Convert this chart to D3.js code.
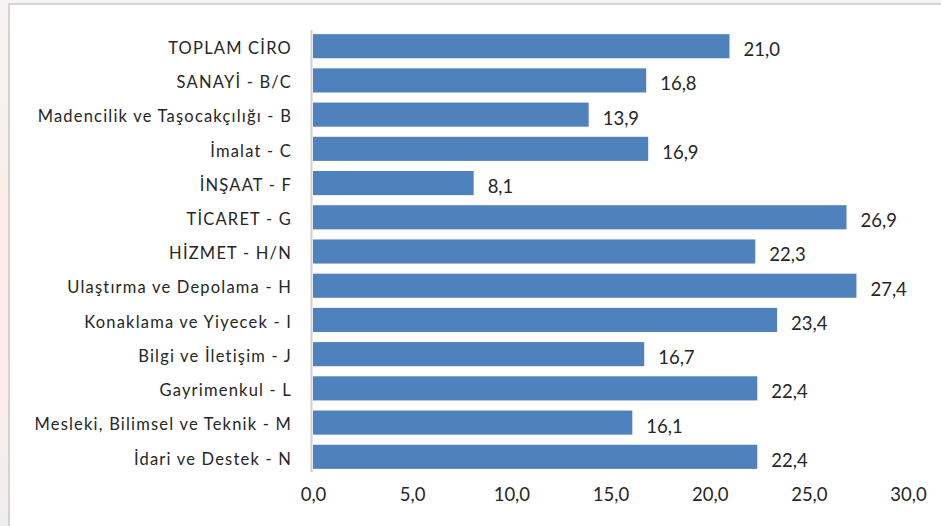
<!DOCTYPE html>
<html>
<head>
<meta charset="utf-8">
<script src="https://cdn.jsdelivr.net/npm/d3@7"></script>
<style>
  html, body { margin: 0; padding: 0; background: #fff; }
  svg { display: block; }
  text { font-family: Lato, "Open Sans", sans-serif; fill: #262626; }
</style>
</head>
<body>
<svg id="chart" width="941" height="526"></svg>
<script>
// Sector labels, top to bottom
const categories = [
  "TOPLAM CİRO",
  "SANAYİ - B/C",
  "Madencilik ve Taşocakçılığı - B",
  "İmalat - C",
  "İNŞAAT - F",
  "TİCARET - G",
  "HİZMET - H/N",
  "Ulaştırma ve Depolama - H",
  "Konaklama ve Yiyecek - I",
  "Bilgi ve İletişim - J",
  "Gayrimenkul - L",
  "Mesleki, Bilimsel ve Teknik - M",
  "İdari ve Destek - N"
];
// Annual change, %
const values = [21.0, 16.8, 13.9, 16.9, 8.1, 26.9, 22.3, 27.4, 23.4, 16.7, 22.4, 16.1, 22.4];
// Horizontal axis ticks
const tickValues = [0, 5, 10, 15, 20, 25, 30];

const fmt = v => d3.format(".1f")(v).replace(".", ",");

const svg = d3.select("#chart");

// faint backdrop strip outside the frame
const defs = svg.append("defs");
const grad = defs.append("linearGradient").attr("id", "strip")
  .attr("x1", 0).attr("y1", 0).attr("x2", 0).attr("y2", 1);
grad.append("stop").attr("offset", "0%").attr("stop-color", "#f6f3f3");
grad.append("stop").attr("offset", "40%").attr("stop-color", "#fbeee6");
grad.append("stop").attr("offset", "75%").attr("stop-color", "#fcecec");
grad.append("stop").attr("offset", "100%").attr("stop-color", "#eeeeee");
svg.append("rect").attr("x", 0).attr("y", 0).attr("width", 9).attr("height", 526)
  .attr("fill", "url(#strip)");
svg.append("rect").attr("x", 0).attr("y", 0).attr("width", 941).attr("height", 3)
  .attr("fill", "#f5f3f3");

// chart frame
svg.append("path")
  .attr("d", "M9,526 V4 H941")
  .attr("fill", "none")
  .attr("stroke", "#d4d4d4")
  .attr("stroke-width", 2);

const x = d3.scaleLinear().domain([0, 30]).range([313, 908]);
const y = d3.scaleBand().domain(categories).range([29, 474]).paddingInner(0.295).paddingOuter(0.15);

// bars
svg.append("g").selectAll("rect")
  .data(values)
  .join("rect")
  .attr("x", x(0))
  .attr("y", (d, i) => y(categories[i]))
  .attr("width", d => x(d) - x(0))
  .attr("height", y.bandwidth())
  .attr("fill", "#4f81bd");

// vertical category axis line
svg.append("line")
  .attr("x1", 311.5).attr("x2", 311.5)
  .attr("y1", 30).attr("y2", 472)
  .attr("stroke", "#d0d0d0")
  .attr("stroke-width", 2);

// category labels
svg.append("g").selectAll("text")
  .data(categories)
  .join("text")
  .attr("x", 292)
  .attr("y", d => y(d) + y.bandwidth() / 2 + 2)
  .attr("dy", "0.35em")
  .attr("text-anchor", "end")
  .attr("font-size", 16.5)
  .attr("letter-spacing", 1.2)
  .text(d => d);

// value labels
svg.append("g").selectAll("text")
  .data(values)
  .join("text")
  .attr("x", d => x(d) + 14)
  .attr("y", (d, i) => y(categories[i]) + y.bandwidth() / 2 + 3.5)
  .attr("dy", "0.35em")
  .attr("font-size", 18.5)
  .attr("fill", "#000")
  .text(d => fmt(d));

// value axis
const xAxis = d3.axisBottom(x).tickValues(tickValues).tickFormat(fmt).tickSize(0).tickPadding(0);
const gx = svg.append("g").attr("transform", "translate(0,490)").call(xAxis);
gx.select(".domain").remove();
gx.selectAll("text")
  .attr("font-size", 18.5)
  .attr("dy", "0.6em")
  .style("font-family", "Lato, 'Open Sans', sans-serif")
  .attr("fill", "#333");
</script>
</body>
</html>
